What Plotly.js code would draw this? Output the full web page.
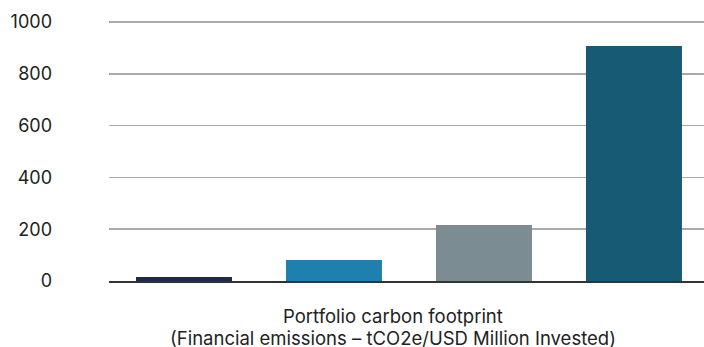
<!DOCTYPE html>
<html><head><meta charset="utf-8">
<script src="https://cdn.plot.ly/plotly-3.0.1.min.js"></script>
<style>html,body{margin:0;padding:0;background:#fff}</style>
</head><body><div id="chart" style="width:704px;height:347px"></div>
<script>
const categories = ["A", "B", "C", "D"];
const values = [15, 81, 216, 908];
const barColors = ["#1b2a4e", "#1f80b0", "#7b8d93", "#165a73"];
const yTicks = [0, 200, 400, 600, 800, 1000];
const titleLines = ["Portfolio carbon footprint", "(Financial emissions – tCO2e/USD Million Invested)"];

const trace = {
  type: "bar",
  x: categories,
  y: values,
  marker: {color: barColors},
  width: 0.64,
  hoverinfo: "skip"
};
const layout = {
  width: 704, height: 347,
  margin: {l: 109, r: 0, t: 19, b: 66},
  paper_bgcolor: "#fff", plot_bgcolor: "#fff",
  font: {family: "Inter, Liberation Sans, Arial, sans-serif", size: 18, color: "#222"},
  showlegend: false,
  xaxis: {
    type: "category",
    range: [-0.5, 3.467],
    showticklabels: false,
    showgrid: false,
    zeroline: false,
    showline: true, linecolor: "#333", linewidth: 2,
    ticks: "",
    automargin: false
  },
  yaxis: {
    range: [0, 1012],
    tickvals: yTicks,
    ticktext: yTicks.map(String),
    showgrid: true, gridcolor: "#aaaaaa", gridwidth: 1.5,
    zeroline: false,
    showline: false,
    ticks: "",
    automargin: false,
    ticklabelstandoff: 56,
    tickfont: {size: 18, color: "#222"}
  },
  annotations: [
    {text: titleLines[0], xref: "paper", yref: "paper", x: 0.477, y: 0, xanchor: "center", yanchor: "middle",
     yshift: -34.5, showarrow: false, font: {size: 18.5, color: "#222"}},
    {text: titleLines[1], xref: "paper", yref: "paper", x: 0.477, y: 0, xanchor: "center", yanchor: "middle",
     yshift: -56.5, showarrow: false, font: {size: 18.5, color: "#222"}}
  ]
};
Plotly.newPlot("chart", [trace], layout, {displayModeBar: false, staticPlot: true});
</script></body></html>
